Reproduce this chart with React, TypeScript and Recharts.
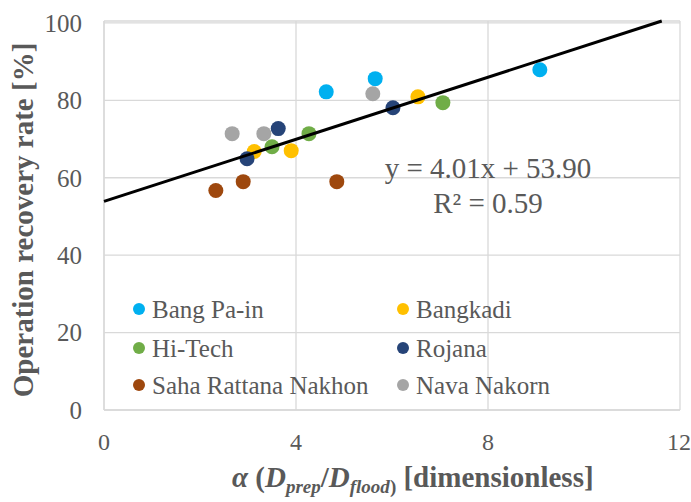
import React from 'react'
import { ScatterChart, Scatter, XAxis, YAxis, CartesianGrid, Customized } from 'recharts'

const FONT = '"Liberation Serif", "Times New Roman", serif'
const TEXT = '#595959'

// values
const bangPaIn = [
  { x: 4.63, y: 82.2 },
  { x: 5.65, y: 85.6 },
  { x: 9.08, y: 87.9 },
]
const bangkadi = [
  { x: 3.13, y: 66.8 },
  { x: 3.9, y: 67.0 },
  { x: 6.54, y: 80.9 },
]
const hiTech = [
  { x: 3.5, y: 68.0 },
  { x: 4.27, y: 71.4 },
  { x: 7.06, y: 79.4 },
]
const rojana = [
  { x: 2.98, y: 64.9 },
  { x: 3.63, y: 72.7 },
  { x: 6.02, y: 78.1 },
]
const sahaRattana = [
  { x: 2.33, y: 56.7 },
  { x: 2.9, y: 59.0 },
  { x: 4.85, y: 59.0 },
]
const navaNakorn = [
  { x: 2.67, y: 71.4 },
  { x: 3.33, y: 71.4 },
  { x: 5.6, y: 81.7 },
]
// trendline ends (y = 4.01x + 53.90)
const trend = [
  { x: 0, y: 53.9 },
  { x: 11.62, y: 100.5 },
]

const xTicks = [0, 4, 8, 12]
const yTicks = [0, 20, 40, 60, 80, 100]

const series = [
  { name: 'Bang Pa-in', color: '#00B0F0', data: bangPaIn },
  { name: 'Bangkadi', color: '#FFC000', data: bangkadi },
  { name: 'Hi-Tech', color: '#70AD47', data: hiTech },
  { name: 'Rojana', color: '#264478', data: rojana },
  { name: 'Saha Rattana Nakhon', color: '#9E480E', data: sahaRattana },
  { name: 'Nava Nakorn', color: '#A5A5A5', data: navaNakorn },
]

const Dot = (color: string) => (p: any) => <circle cx={p.cx} cy={p.cy} r={7.5} fill={color} />

// legend drawn inside the plot, two columns
const LegendBox = () => (
  <g fontFamily={FONT} fontSize={25} fill={TEXT}>
    {series.map((s, i) => {
      const x = i % 2 === 0 ? 139 : 403
      const y = [309, 348, 385][Math.floor(i / 2)]
      return (
        <g key={s.name}>
          <circle cx={x} cy={y} r={6} fill={s.color} />
          <text x={x + 13} y={y + 8.5}>{s.name}</text>
        </g>
      )
    })}
  </g>
)

const Annotation = () => (
  <g fontFamily={FONT} fill={TEXT} fontSize={29} textAnchor="middle">
    <text x={488} y={178}>y = 4.01x + 53.90</text>
    <text x={488} y={213}>R² = 0.59</text>
  </g>
)

const XTitle = () => (
  <text x={232} y={487} fontFamily={FONT} fontWeight="bold" fontSize={29} fill={TEXT}>
    <tspan fontStyle="italic">α</tspan>
    <tspan> (</tspan>
    <tspan fontStyle="italic">D</tspan>
    <tspan fontStyle="italic" fontSize={19} dy={6}>prep</tspan>
    <tspan dy={-6}>/</tspan>
    <tspan fontStyle="italic">D</tspan>
    <tspan fontStyle="italic" fontSize={19} dy={6}>flood</tspan>
    <tspan fontSize={19}>)</tspan>
    <tspan dy={-6}> [dimensionless]</tspan>
  </text>
)

const YTitle = () => (
  <text
    x={0}
    y={0}
    transform="translate(33, 220) rotate(-90)"
    textAnchor="middle"
    fontFamily={FONT}
    fontWeight="bold"
    fontSize={29}
    fill={TEXT}
  >
    Operation recovery rate [%]
  </text>
)

export default function App() {
  return (
    <div style={{ position: 'absolute', left: 0, top: 0 }}>
      <ScatterChart width={691} height={502} margin={{ top: 21, right: 11, bottom: 0, left: 0 }}>
        <CartesianGrid stroke="#D9D9D9" strokeWidth={1.3} />
        <XAxis
          type="number"
          dataKey="x"
          domain={[0, 12]}
          ticks={xTicks}
          height={92}
          axisLine={{ stroke: '#D9D9D9', strokeWidth: 1.3 }}
          tickLine={false}
          tickSize={0}
          tickMargin={23}
          tick={{ fill: TEXT, fontSize: 24, fontFamily: FONT }}
        />
        <YAxis
          type="number"
          dataKey="y"
          domain={[0, 100]}
          ticks={yTicks}
          width={104}
          axisLine={{ stroke: '#D9D9D9', strokeWidth: 1.3 }}
          tickLine={false}
          tickSize={0}
          tickMargin={22}
          tick={{ fill: TEXT, fontSize: 25, fontFamily: FONT }}
        />
        <Customized component={LegendBox} />
        {series.map((s) => (
          <Scatter key={s.name} name={s.name} data={s.data} fill={s.color} shape={Dot(s.color)} isAnimationActive={false} />
        ))}
        <Scatter
          name="trend"
          data={trend}
          line={{ stroke: '#000000', strokeWidth: 3 }}
          shape={() => null}
          legendType="none"
          isAnimationActive={false}
        />
        <Customized component={Annotation} />
        <Customized component={XTitle} />
        <Customized component={YTitle} />
      </ScatterChart>
    </div>
  )
}
